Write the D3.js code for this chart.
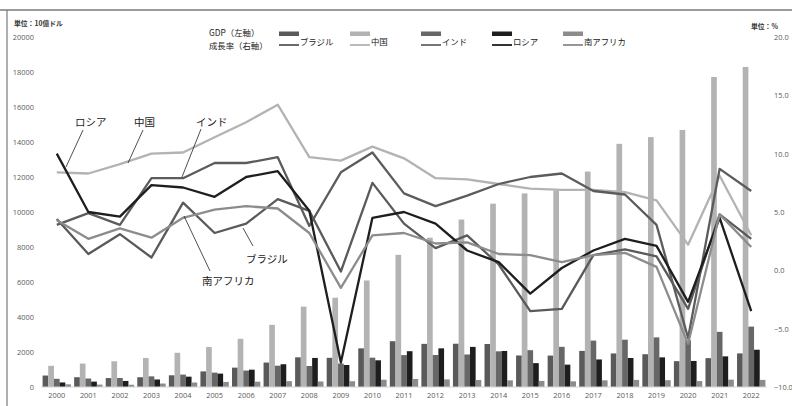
<!DOCTYPE html>
<html>
<head>
<meta charset="utf-8">
<script src="https://cdn.jsdelivr.net/npm/d3@7"></script>
<style>
body { margin: 0; background: #fff; }
svg { display: block; font-family: "Noto Sans CJK JP", "Noto Sans", sans-serif; }
</style>
</head>
<body>
<div id="chart"></div>
<script>
var years = ["2000","2001","2002","2003","2004","2005","2006","2007","2008","2009","2010","2011",
    "2012","2013","2014","2015","2016","2017","2018","2019","2020","2021","2022"];
var countries = ["ブラジル", "中国", "インド", "ロシア", "南アフリカ"];
var colors = ["#5a5a5a", "#b3b3b3", "#676767", "#1e1e1e", "#8c8c8c"];

// GDP, 10億ドル (left axis)
var gdpBrazil = [655, 559, 509, 558, 669, 891, 1107, 1397, 1696, 1667, 2209, 2616, 2465, 2473, 2456, 1802, 1796, 2063, 1917, 1873, 1476, 1649, 1920];
var gdpChina = [1211, 1339, 1471, 1660, 1955, 2286, 2752, 3550, 4594, 5102, 6087, 7552, 8532, 9570, 10476, 11062, 11233, 12310, 13895, 14280, 14688, 17714, 18290];
var gdpIndia = [468, 485, 515, 608, 709, 820, 940, 1217, 1199, 1342, 1676, 1823, 1828, 1857, 2039, 2104, 2295, 2651, 2703, 2836, 2672, 3150, 3450];
var gdpRussia = [260, 307, 345, 430, 591, 764, 990, 1300, 1661, 1257, 1525, 2046, 2208, 2292, 2059, 1363, 1277, 1574, 1657, 1693, 1489, 1750, 2130];
var gdpSAfrica = [152, 136, 129, 197, 256, 289, 304, 334, 316, 330, 417, 458, 434, 401, 381, 347, 323, 381, 405, 389, 338, 420, 406];

// 成長率, % (right axis)
var growBrazil = [4.4, 1.4, 3.1, 1.1, 5.8, 3.2, 4.0, 6.1, 5.1, -0.1, 7.5, 4.0, 1.9, 3.0, 0.5, -3.5, -3.3, 1.3, 1.8, 1.2, -3.3, 4.8, 2.7];
var growChina = [8.4, 8.3, 9.1, 10.0, 10.1, 11.4, 12.7, 14.2, 9.7, 9.4, 10.6, 9.6, 7.9, 7.8, 7.4, 7.0, 6.9, 6.9, 6.7, 6.0, 2.2, 8.1, 3.0];
var growIndia = [3.9, 4.9, 3.9, 7.9, 7.9, 9.2, 9.2, 9.7, 3.8, 8.4, 10.1, 6.6, 5.5, 6.4, 7.4, 8.0, 8.3, 6.8, 6.5, 3.9, -5.8, 8.7, 6.8];
var growRussia = [10.0, 5.0, 4.6, 7.3, 7.1, 6.3, 8.0, 8.5, 5.1, -7.9, 4.5, 5.0, 4.0, 1.7, 0.7, -2.0, 0.2, 1.7, 2.7, 2.1, -2.7, 4.5, -3.5];
var growSAfrica = [4.3, 2.7, 3.6, 2.8, 4.5, 5.2, 5.5, 5.3, 3.2, -1.5, 3.0, 3.2, 2.3, 2.4, 1.4, 1.3, 0.7, 1.3, 1.5, 0.3, -6.3, 4.8, 2.0];

var leftTicks = [0, 2000, 4000, 6000, 8000, 10000, 12000, 14000, 16000, 18000, 20000];
var rightTicks = [-10, -5, 0, 5, 10, 15, 20];

var gdp = [gdpBrazil, gdpChina, gdpIndia, gdpRussia, gdpSAfrica];
var grow = [growBrazil, growChina, growIndia, growRussia, growSAfrica];

var width = 792, height = 406;

var svg = d3.select("#chart").append("svg")
    .attr("width", width)
    .attr("height", height);

// frame (top and left edge)
svg.append("line").attr("x1", 0).attr("x2", width).attr("y1", 10).attr("y2", 10)
    .attr("stroke", "#7a7a7a").attr("stroke-width", 1.6);
svg.append("line").attr("x1", 7).attr("x2", 7).attr("y1", 10).attr("y2", height)
    .attr("stroke", "#7a7a7a").attr("stroke-width", 1.2);

var x0 = d3.scaleBand().domain(years).range([41, 767]).padding(0);
var x1 = d3.scaleBand().domain(countries).range([1.6, x0.bandwidth() - 1.6]).padding(0);
var yL = d3.scaleLinear().domain([0, 20000]).range([387, 37]);
var yR = d3.scaleLinear().domain([-10, 20]).range([387, 37]);

// bars
var barData = [];
years.forEach(function (yr, i) {
    countries.forEach(function (c, j) {
        barData.push({ year: yr, country: c, k: j, value: gdp[j][i] });
    });
});

svg.append("g")
    .selectAll("rect")
    .data(barData)
    .enter().append("rect")
    .attr("x", d => x0(d.year) + x1(d.country))
    .attr("width", x1.bandwidth())
    .attr("y", d => yL(d.value))
    .attr("height", d => yL(0) - yL(d.value))
    .attr("fill", d => colors[d.k]);

// baseline
svg.append("line").attr("x1", 41).attr("x2", 767).attr("y1", yL(0)).attr("y2", yL(0))
    .attr("stroke", "#d4d4d4").attr("stroke-width", 1);

// axes
var axisL = svg.append("g").attr("transform", "translate(35,0)")
    .call(d3.axisLeft(yL).tickValues(leftTicks).tickSize(0).tickFormat(d3.format("d")));
var axisR = svg.append("g").attr("transform", "translate(773,0)")
    .call(d3.axisRight(yR).tickValues(rightTicks).tickSize(0).tickFormat(d3.format(".1f")));
var axisX = svg.append("g").attr("transform", "translate(0,391)")
    .call(d3.axisBottom(x0).tickSize(0));

[axisL, axisR, axisX].forEach(function (a) {
    a.select(".domain").remove();
    a.selectAll("text")
        .attr("fill", "#595959")
        .style("font-family", "'Open Sans', 'Noto Sans', sans-serif")
        .style("font-size", "7.4px");
});
axisL.selectAll("text").attr("x", -1);
axisR.selectAll("text").attr("x", 1);
axisX.selectAll("text").attr("dy", "0.71em").attr("y", 2);

// lines
var line = d3.line()
    .x((d, i) => x0(years[i]) + x0.bandwidth() / 2)
    .y(d => yR(d));

svg.append("g")
    .selectAll("path")
    .data(grow)
    .enter().append("path")
    .attr("d", line)
    .attr("fill", "none")
    .attr("stroke", (d, i) => colors[i] === "#676767" ? "#5c5c5c" : colors[i])
    .attr("stroke-width", 2.3)
    .attr("stroke-linejoin", "round");

// unit labels
svg.append("text").attr("x", 14).attr("y", 26)
    .style("font-size", "6.8px").style("font-weight", "bold").attr("fill", "#333")
    .text("単位：10億ドル");
svg.append("text").attr("x", 751).attr("y", 29)
    .style("font-size", "6.8px").style("font-weight", "bold").attr("fill", "#333")
    .text("単位：%");

// legend
var legend = svg.append("g").style("font-size", "8.4px").attr("fill", "#222");
legend.append("text").attr("x", 209).attr("y", 36).text("GDP（左軸）");
legend.append("text").attr("x", 209).attr("y", 49).text("成長率（右軸）");

var lx = [279, 350, 421, 492, 563];
countries.forEach(function (c, i) {
    var g = legend.append("g").attr("transform", "translate(" + lx[i] + ",0)");
    g.append("rect").attr("x", 0).attr("y", 31.5).attr("width", 20).attr("height", 4.5).attr("fill", colors[i]);
    g.append("line").attr("x1", 0).attr("x2", 20).attr("y1", 45).attr("y2", 45)
        .attr("stroke", colors[i]).attr("stroke-width", 1.8);
    g.append("text").attr("x", 21).attr("y", 44.5).text(c);
});

// callout labels
var callouts = [
    { name: "ロシア", tx: 75, ty: 126, p1: [83, 130], p2: [66, 167] },
    { name: "中国", tx: 134, ty: 126, p1: [143, 130], p2: [128, 163] },
    { name: "インド", tx: 196, ty: 126, p1: [201, 129], p2: [182, 177] },
    { name: "ブラジル", tx: 246, ty: 263, p1: [253, 246], p2: [243, 228] },
    { name: "南アフリカ", tx: 202, ty: 285, p1: [210, 271], p2: [184, 216] }
];
var co = svg.append("g");
co.selectAll("line").data(callouts).enter().append("line")
    .attr("x1", d => d.p1[0]).attr("y1", d => d.p1[1])
    .attr("x2", d => d.p2[0]).attr("y2", d => d.p2[1])
    .attr("stroke", "#222").attr("stroke-width", 0.8);
co.selectAll("text").data(callouts).enter().append("text")
    .attr("x", d => d.tx).attr("y", d => d.ty)
    .style("font-size", "10.5px").attr("fill", "#222")
    .text(d => d.name);
</script>
</body>
</html>
